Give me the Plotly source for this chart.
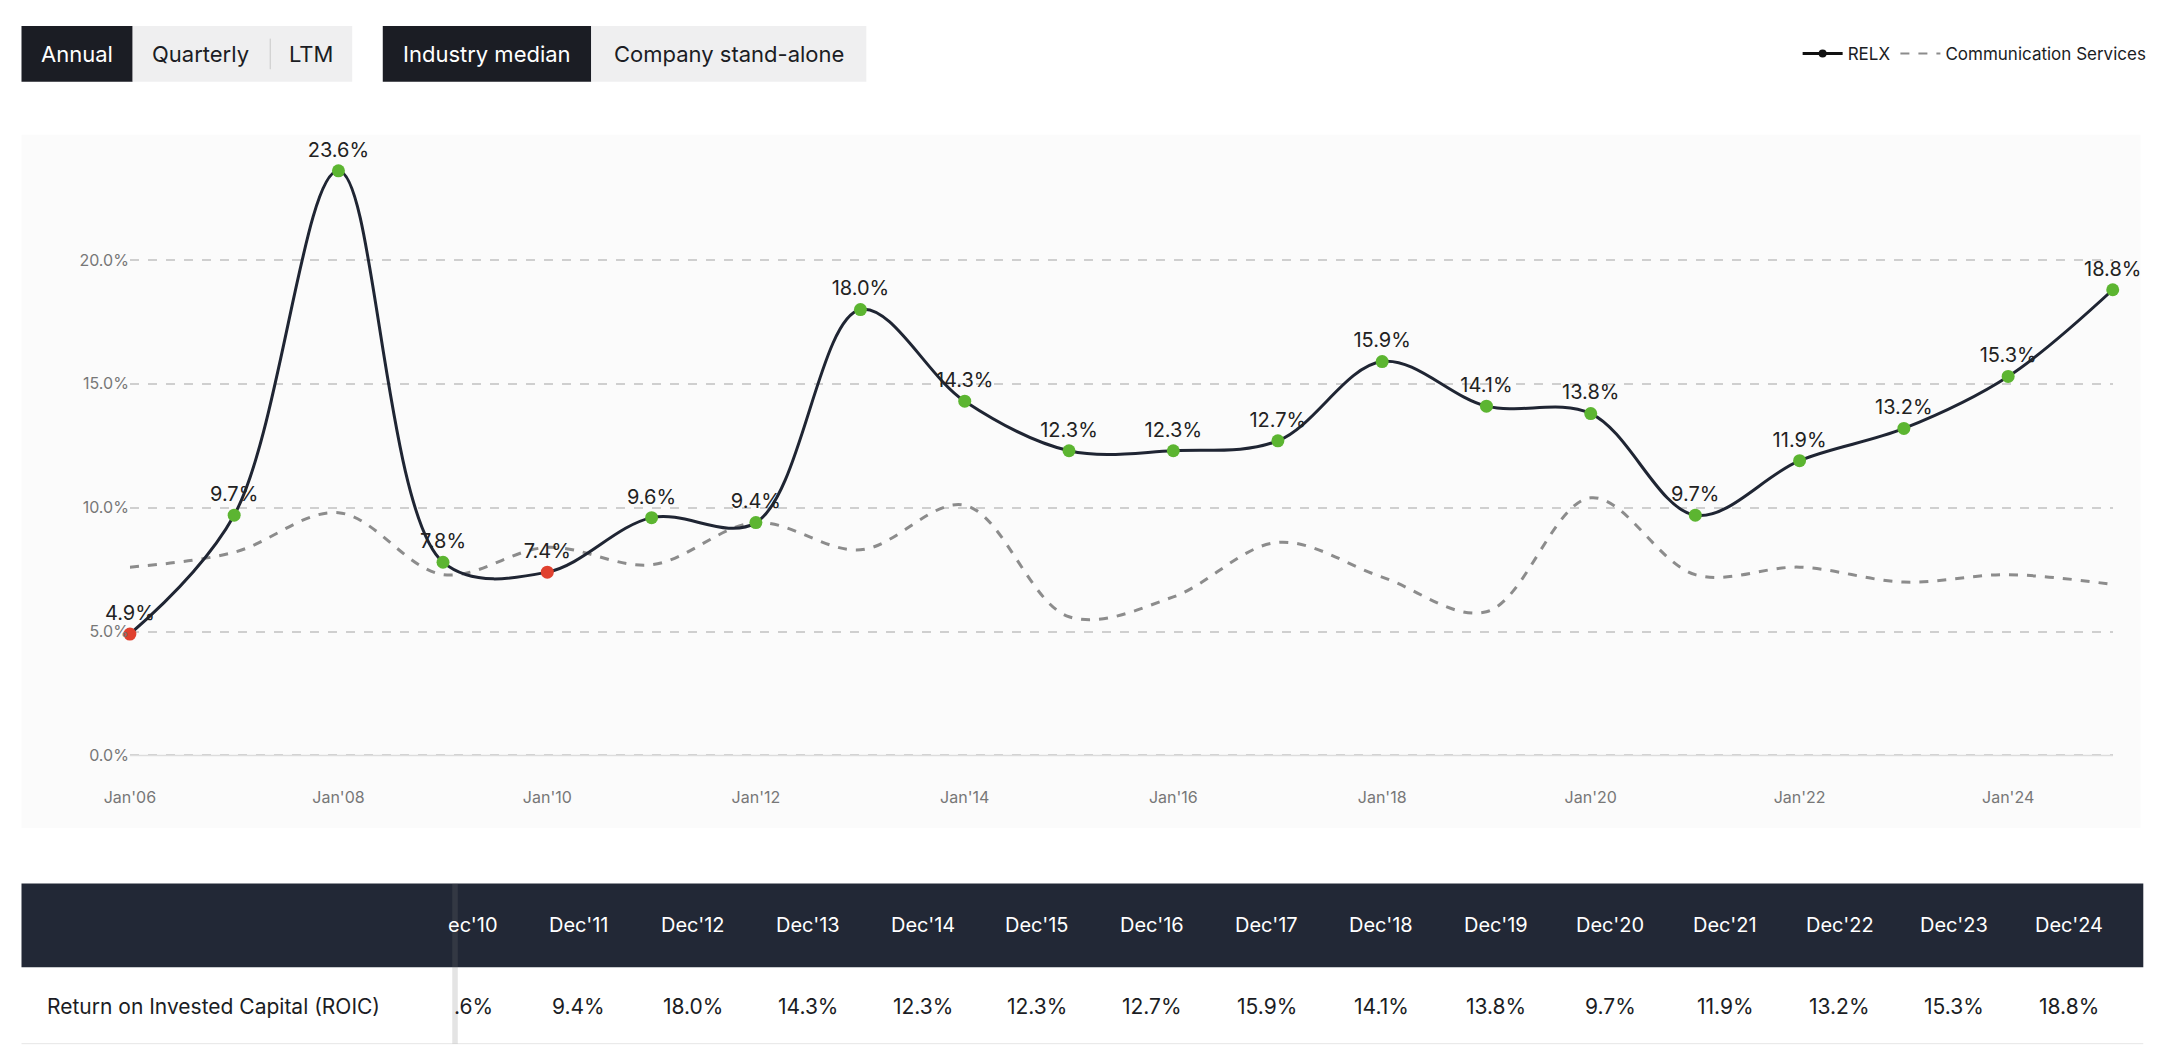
import plotly.graph_objects as go

W, H = 2180, 1058

years = list(range(2006, 2026))
dates = [f"{y}-01-01" for y in years]
relx = [4.9, 9.7, 23.6, 7.8, 7.4, 9.6, 9.4, 18.0, 14.3, 12.3, 12.3, 12.7,
        15.9, 14.1, 13.8, 9.7, 11.9, 13.2, 15.3, 18.8]
industry = [7.6, 8.2, 9.8, 7.3, 8.4, 7.7, 9.4, 8.3, 10.1, 5.6, 6.4, 8.6,
            7.2, 5.8, 10.4, 7.3, 7.6, 7.0, 7.3, 6.9]

tbl_cols = ["ec'10", "Dec'11", "Dec'12", "Dec'13", "Dec'14", "Dec'15", "Dec'16", "Dec'17",
            "Dec'18", "Dec'19", "Dec'20", "Dec'21", "Dec'22", "Dec'23", "Dec'24"]
tbl_vals = [".6%"] + [f"{v:.1f}%" for v in
                      [9.4, 18.0, 14.3, 12.3, 12.3, 12.7, 15.9, 14.1, 13.8, 9.7, 11.9, 13.2, 15.3, 18.8]]

FONT = "Inter, Roboto, sans-serif"
DARK = "#1b1d24"
GREEN = "#5cb531"
RED = "#e0412f"


def px(x):
    # measured on a 1560 px wide copy; small correction for page offset
    return ((x - 24) / 0.9937) / 1560.0


def py(y):
    return 1 - ((y - 6) / 1.004) / 757.0


colors = [RED if r < i else GREEN for r, i in zip(relx, industry)]

fig = go.Figure()
fig.add_trace(go.Scatter(
    x=dates, y=industry, mode="lines", name="Communication Services",
    line=dict(color="#8c8c8c", width=3, dash="dash", shape="spline", smoothing=1.0),
    hoverinfo="skip", showlegend=False,
))
fig.add_trace(go.Scatter(
    x=dates, y=relx, mode="lines+markers+text", name="RELX",
    line=dict(color="#1f2533", width=3, shape="spline", smoothing=1.0),
    marker=dict(color=colors, size=13),
    text=[f"{v:.1f}%" for v in relx], textposition="top center",
    textfont=dict(size=20, color="#222", family=FONT),
    cliponaxis=False, showlegend=False,
))
# legend entries
fig.add_trace(go.Scatter(x=[None], y=[None], mode="lines+markers", name="RELX",
                         line=dict(color="#111", width=3), marker=dict(color="#111", size=8)))
fig.add_trace(go.Scatter(x=[None], y=[None], mode="lines", name="Communication Services",
                         line=dict(color="#8c8c8c", width=2, dash="dash")))

shapes = []
annotations = []


def label(x, y, text, size, color, anchor="center"):
    annotations.append(dict(x=px(x), y=py(y), xref="paper", yref="paper", text=text,
                            xanchor=anchor, yanchor="middle", showarrow=False,
                            font=dict(size=size, family=FONT, color=color)))


shapes.append(dict(type="rect", xref="paper", yref="paper", x0=px(15), x1=px(1540),
                   y0=py(595), y1=py(97), fillcolor="#fbfbfb", line_width=0, layer="below"))

for x0, x1, dark in [(15, 95, True), (95, 253, False), (275, 425, True), (425, 623, False)]:
    shapes.append(dict(type="rect", xref="paper", yref="paper", x0=px(x0), x1=px(x1),
                       y0=py(59), y1=py(19), fillcolor=DARK if dark else "#efeff0",
                       line_width=0))
label(55, 39, "Annual", 22, "white")
label(144, 39, "Quarterly", 22, DARK)
label(223, 39, "LTM", 22, DARK)
label(350, 39, "Industry median", 22, "white")
label(524, 39, "Company stand-alone", 22, DARK)
shapes.append(dict(type="line", xref="paper", yref="paper", x0=px(194), x1=px(194),
                   y0=py(50), y1=py(28), line=dict(color="#c8c8c8", width=1)))

# table
shapes.append(dict(type="rect", xref="paper", yref="paper", x0=px(15), x1=px(1542),
                   y0=py(695), y1=py(635), fillcolor="#222836", line_width=0))
shapes.append(dict(type="line", xref="paper", yref="paper", x0=px(15), x1=px(1542),
                   y0=py(750), y1=py(750), line=dict(color="#e6e6e6", width=1)))
col_x = [340] + [416 + 82.5 * i for i in range(len(tbl_cols) - 1)]
for cx, c, v in zip(col_x, tbl_cols, tbl_vals):
    label(cx, 665, c, 20, "white")
    label(cx, 723, v, 21, DARK)
shapes.append(dict(type="rect", xref="paper", yref="paper", x0=px(325), x1=px(329),
                   y0=py(750), y1=py(635), fillcolor="rgba(120,120,120,0.2)", line_width=0))
label(32, 723, "Return on Invested Capital (ROIC)", 21, DARK, anchor="left")

fig.update_layout(
    width=W, height=H, margin=dict(l=0, r=0, t=0, b=0),
    paper_bgcolor="white", plot_bgcolor="rgba(0,0,0,0)",
    font=dict(family=FONT),
    shapes=shapes, annotations=annotations,
    showlegend=True,
    legend=dict(orientation="h", x=px(1548), xanchor="right", y=py(39), yanchor="middle",
                font=dict(size=17, color=DARK, family=FONT), bgcolor="rgba(0,0,0,0)",
                traceorder="normal", itemwidth=40),
    xaxis=dict(domain=[px(93), px(1520)], type="date",
               range=["2006-01-01", "2025-01-01"], tick0="2006-01-01", dtick="M24",
               tickformat="%b'%y", showgrid=False, zeroline=False, showline=False,
               ticks="", tickfont=dict(size=16, color="#777", family=FONT)),
    yaxis=dict(domain=[py(565), py(97)], range=[-1.24, 25.06], tickvals=[0, 5, 10, 15, 20],
               ticktext=["0.0%", "5.0%", "10.0%", "15.0%", "20.0%"],
               showgrid=True, gridcolor="#cfcfcf", griddash="dash", gridwidth=1.5,
               zeroline=False, ticks="", tickfont=dict(size=16, color="#777", family=FONT)),
)
fig.add_hline(y=0, line=dict(color="#dddddd", width=1.5))

fig.write_html("out.html")
